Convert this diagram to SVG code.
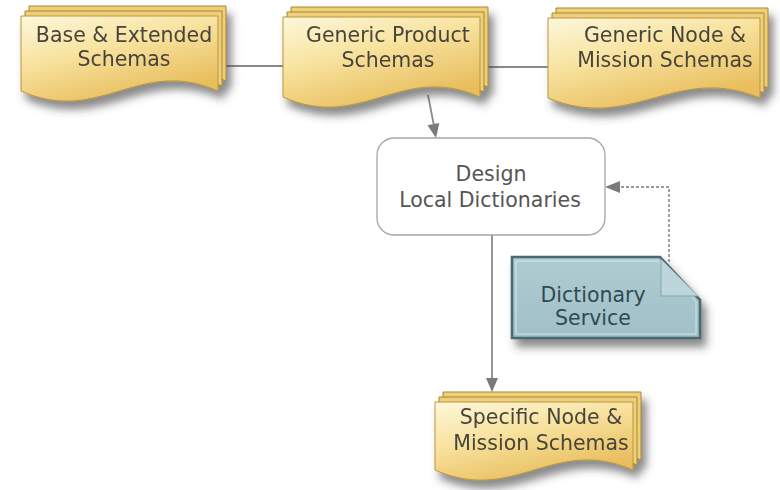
<svg xmlns="http://www.w3.org/2000/svg" width="780" height="490" viewBox="0 0 780 490">
  <style>
    .doc { fill: url(#gold); stroke: #b8963e; stroke-width: 1; }
    .sheet { fill: #efd078; stroke: #a98634; stroke-width: 1; }
    .lbl { font-family: "DejaVu Sans", Verdana, sans-serif; font-size: 20.5px; text-anchor: middle; }
    .docText { fill: #47443a; }
    .procText { fill: #555555; }
    .svcText { fill: #2f4b52; }
    .link { fill: none; stroke: #8a8a8a; stroke-width: 1.8; }
    .dash { fill: none; stroke: #9a9a9a; stroke-width: 1.8; stroke-dasharray: 3 2; }
    .head { fill: #7a7a7a; }
  </style>
  <defs>
    <linearGradient id="gold" x1="0" y1="0" x2="0.55" y2="1">
      <stop offset="0" stop-color="#fdf7dc"/>
      <stop offset="0.45" stop-color="#f8e3a0"/>
      <stop offset="1" stop-color="#e8bd5c"/>
    </linearGradient>
    <linearGradient id="steel" x1="0" y1="0" x2="0" y2="1">
      <stop offset="0" stop-color="#b0ccd3"/>
      <stop offset="1" stop-color="#a0bfc6"/>
    </linearGradient>
    <filter id="shadow" x="-10%" y="-20%" width="125%" height="160%">
      <feDropShadow dx="5" dy="8" stdDeviation="4.5" flood-color="#3a3a3a" flood-opacity="0.6"/>
    </filter>
    <!-- multi-document outlines: flat top, wavy bottom -->
    <path id="docBase" d="M21,16 H218 V91 C139.2,56 99.8,126 21,91 Z"/>
    <path id="docProduct" d="M283,17 H480 V97 C401.2,62 361.8,132 283,97 Z"/>
    <path id="docNode" d="M548,18 H760 V98 C675.2,63 632.8,133 548,98 Z"/>
    <path id="docSpecific" d="M435,402 H633 V470 C553.8,435 514.2,505 435,470 Z"/>
  </defs>

  <rect width="780" height="490" fill="#ffffff"/>

  <!-- connectors -->
  <g id="connectors">
    <line class="link" x1="226" y1="66" x2="284" y2="66"/>
    <line class="link" x1="486" y1="67" x2="549" y2="67"/>
    <line class="link" x1="428" y1="95" x2="434" y2="126"/>
    <path class="head" d="M436,138 L427.5,125.3 L439.3,123.1 Z"/>
    <line class="link" x1="492" y1="235" x2="492" y2="380"/>
    <path class="head" d="M492,392 L486,378 L498,378 Z"/>
    <polyline class="dash" points="669,262 669,187 612,187"/>
    <path class="head" d="M605,187 L620,181 L620,193 Z"/>
  </g>

  <g id="base-extended" filter="url(#shadow)">
    <use href="#docBase" class="sheet" transform="translate(8,-10)"/>
    <use href="#docBase" class="sheet" transform="translate(4,-5)"/>
    <use href="#docBase" class="doc"/>
    <text class="lbl docText" x="124" y="42">Base &amp; Extended</text>
    <text class="lbl docText" x="124" y="66">Schemas</text>
  </g>

  <g id="generic-product" filter="url(#shadow)">
    <use href="#docProduct" class="sheet" transform="translate(8,-10)"/>
    <use href="#docProduct" class="sheet" transform="translate(4,-5)"/>
    <use href="#docProduct" class="doc"/>
    <text class="lbl docText" x="388" y="42">Generic Product</text>
    <text class="lbl docText" x="388" y="67">Schemas</text>
  </g>

  <g id="generic-node-mission" filter="url(#shadow)">
    <use href="#docNode" class="sheet" transform="translate(8,-10)"/>
    <use href="#docNode" class="sheet" transform="translate(4,-5)"/>
    <use href="#docNode" class="doc"/>
    <text class="lbl docText" x="665" y="42">Generic Node &amp;</text>
    <text class="lbl docText" x="665" y="67">Mission Schemas</text>
  </g>

  <g id="design-local-dictionaries">
    <rect x="377" y="138" width="228" height="97" rx="17" ry="17" fill="#ffffff" stroke="#a6a6a6" stroke-width="1.3"/>
    <text class="lbl procText" x="491" y="181">Design</text>
    <text class="lbl procText" x="490" y="207">Local Dictionaries</text>
  </g>

  <g id="dictionary-service">
    <path d="M512,257 H660 L700,300 V338 H512 Z" fill="url(#steel)" stroke="#4a6a71" stroke-width="2.6" filter="url(#shadow)"/>
    <path d="M516,261 H658 L696,301.5 V334 H516 Z" fill="none" stroke="#d3e5e9" stroke-width="1"/>
    <path d="M661,259 L698,296 H661 Z" fill="#bcd6dc" stroke="none"/>
    <line x1="661" y1="259" x2="661" y2="296" stroke="#87a3aa" stroke-width="1"/>
    <line x1="661" y1="296" x2="698" y2="296" stroke="#87a3aa" stroke-width="1"/>
    <text class="lbl svcText" x="593" y="302">Dictionary</text>
    <text class="lbl svcText" x="593" y="325">Service</text>
  </g>

  <g id="specific-node-mission" filter="url(#shadow)">
    <use href="#docSpecific" class="sheet" transform="translate(8,-10)"/>
    <use href="#docSpecific" class="sheet" transform="translate(4,-5)"/>
    <use href="#docSpecific" class="doc"/>
    <text class="lbl docText" x="541" y="424">Specific Node &amp;</text>
    <text class="lbl docText" x="541" y="450">Mission Schemas</text>
  </g>
</svg>
